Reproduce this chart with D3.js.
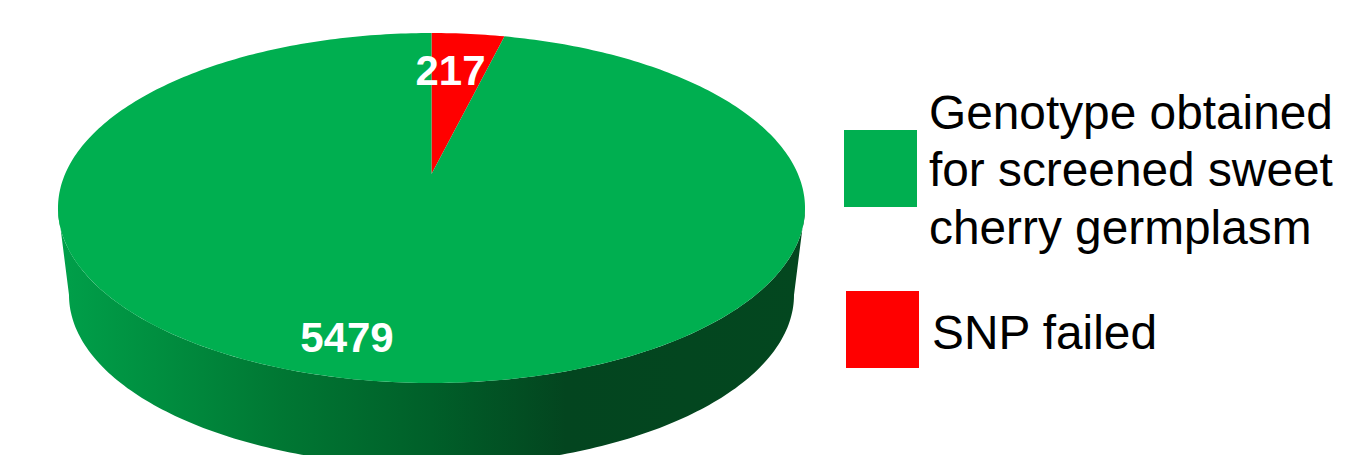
<!DOCTYPE html>
<html>
<head>
<meta charset="utf-8">
<script src="https://cdn.jsdelivr.net/npm/d3@7"></script>
<style>
  html, body { margin: 0; padding: 0; background: #fff; overflow: hidden; }
  svg { display: block; }
  text { font-family: "Liberation Sans", Arial, sans-serif; }
</style>
</head>
<body>
<svg id="chart" width="1352" height="455"></svg>
<script>
// Slice data
const categories = ["SNP failed", "Genotype obtained for screened sweet cherry germplasm"];
const counts = [217, 5479];
const sliceColors = ["#ff0000", "#00af50"];
const legendLines = [["SNP failed"], ["Genotype obtained", "for screened sweet", "cherry germplasm"]];

const svg = d3.select("#chart");
const TAU = Math.PI * 2;

// Perspective view of the pie disc: c is the foreshortening of the far edge.
const cx = 431.5, hubY = 174, yGain = 134.6, c = -0.1943, xGain = 366.4;
function project(angle) {
  const x = Math.sin(angle), y = -Math.cos(angle);
  const w = 1 + c * y;
  return [cx + xGain * x / w, (hubY + yGain * y) / w];
}

const slices = d3.pie().sort(null).startAngle(0).endAngle(TAU)(counts);

// Rim ellipses of the disc
const rimY = 208, rimRy = 175, rimRx = 373.5;
const baseY = 295, baseRy = 171, baseRx = 362.5;
const line = d3.line();
const arcPoints = (ox, oy, rx, ry, from, to) =>
  d3.range(0, 181).map(i => {
    const t = from + (to - from) * i / 180;
    return [ox + rx * Math.cos(t), oy + ry * Math.sin(t)];
  });

// Side wall shading runs left to right
const defs = svg.append("defs");
const wallGrad = defs.append("linearGradient")
  .attr("id", "wall").attr("gradientUnits", "userSpaceOnUse")
  .attr("x1", 58).attr("x2", 805).attr("y1", 0).attr("y2", 0);
[[0, "#00a04a"], [0.1, "#009342"], [0.3, "#007733"], [0.5, "#005f29"], [0.68, "#03451f"], [1, "#03471f"]]
  .forEach(([o, col]) => wallGrad.append("stop").attr("offset", o).attr("stop-color", col));

const wallPts = arcPoints(cx, rimY, rimRx, rimRy, Math.PI, 0)
  .concat(arcPoints(cx, baseY, baseRx, baseRy, 0, Math.PI));
svg.append("path")
  .attr("d", line(wallPts) + "Z")
  .attr("fill", "url(#wall)");

// Top face wedges
svg.append("g").selectAll("path")
  .data(slices)
  .join("path")
  .attr("fill", (d, i) => sliceColors[i])
  .attr("d", d => {
    const n = Math.max(2, Math.ceil((d.endAngle - d.startAngle) * 60));
    const pts = d3.range(n + 1).map(i => project(d.startAngle + (d.endAngle - d.startAngle) * i / n));
    return line([[cx, hubY], ...pts]) + "Z";
  });

// Value labels
const labelSpots = [[450.5, 85], [347, 352]];
svg.append("g").selectAll("text")
  .data(counts)
  .join("text")
  .attr("x", (d, i) => labelSpots[i][0])
  .attr("y", (d, i) => labelSpots[i][1])
  .attr("text-anchor", "middle")
  .attr("font-size", 42)
  .attr("font-weight", "bold")
  .attr("fill", "#fff")
  .text(d => d);

// Legend
const legendSpots = [
  { box: [846, 291], text: [932], base: [349] },
  { box: [844, 130], text: [929], base: [129, 186, 244] }
];
const legend = svg.append("g");
categories.forEach((name, i) => {
  const spot = legendSpots[i];
  legend.append("rect")
    .attr("x", spot.box[0]).attr("y", spot.box[1])
    .attr("width", 73).attr("height", 77)
    .attr("fill", sliceColors[i]);
  legendLines[i].forEach((t, j) => {
    legend.append("text")
      .attr("x", spot.text[0]).attr("y", spot.base[j])
      .attr("font-size", 47.8)
      .attr("fill", "#000")
      .text(t);
  });
});
</script>
</body>
</html>
